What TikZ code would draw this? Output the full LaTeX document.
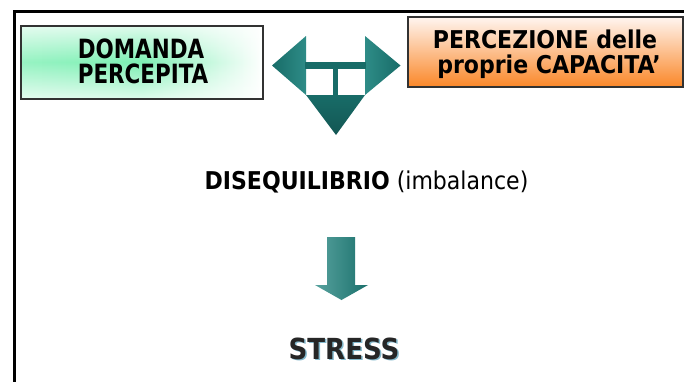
\documentclass[tikz,border=0pt]{standalone}
\usepackage{fontspec}
\setmainfont{DejaVu Sans Condensed}
\newfontfamily\narrowfont{DejaVu Sans Condensed}[FakeStretch=0.9]
\usetikzlibrary{shadings,fadings}
\definecolor{tealA}{RGB}{24,108,104}
\definecolor{tealB}{RGB}{46,140,135}
\definecolor{mint}{RGB}{125,240,180}
\definecolor{orng}{RGB}{250,135,40}
\definecolor{orngtop}{RGB}{255,245,240}
\definecolor{boxline}{RGB}{50,50,50}
\definecolor{shadowblue}{RGB}{130,185,205}
\tikzset{
  greentext/.style={font=\narrowfont\fontsize{26.5}{25}\selectfont\bfseries, text=black, inner sep=0pt, anchor=base},
  orangetext/.style={font=\fontsize{24.5}{25}\selectfont\bfseries, text=black, inner sep=0pt, anchor=base},
  boxframe/.style={draw=boxline, line width=1.3pt, inner sep=0pt},
}
\begin{document}
\begin{tikzpicture}[x=1pt,y=-1pt]
\useasboundingbox (0,0) rectangle (684,381);
\fill[white] (0,0) rectangle (684,381);
% frame
\draw[line width=3pt] (14.5,11.5) -- (700,11.5);
\draw[line width=3pt] (14.5,10) -- (14.5,400);
% green box
\shade[left color=mint!80!white, right color=white, middle color=mint] (21,26) rectangle (263,99);
\fill[white, opacity=0.75, path fading=south] (21,26) rectangle (263,62);
\fill[white, opacity=0.75, path fading=north] (21,62) rectangle (263,99);
\node[boxframe, minimum width=242pt, minimum height=73pt] (dom) at (142,62.5) {};
\node[greentext] (dom1) at (141,58) {DOMANDA};
\node[greentext] (dom2) at (143,83) {PERCEPITA};
% orange box
\shade[top color=orngtop, bottom color=orng] (408,17) rectangle (683,87);
\node[boxframe, minimum width=275pt, minimum height=70pt] (perc) at (545.5,52) {};
\node[orangetext] (perc1) at (545,48) {PERCEZIONE delle};
\node[orangetext] (perc2) at (549,73) {proprie CAPACITA’};
% teal shape
\shade[left color=tealA, right color=tealB] (306,36) -- (272,65.5) -- (306,95) -- cycle;
\shade[left color=tealB, right color=tealA] (365,36) -- (400.5,65.5) -- (365,95) -- cycle;
\fill[tealA] (305,62) rectangle (366,69);
\fill[tealA] (333,68) rectangle (338,96);
\shade[top color=tealA, bottom color=tealA!80!black] (306,95) -- (365,95) -- (336,135) -- cycle;
% middle text
\node[anchor=base, inner sep=0pt, font=\fontsize{24.5}{26}\selectfont] (dis) at (366.5,189) {\textbf{DISEQUILIBRIO} (imbalance)};
% down arrow
\shade[left color=tealB!80!white, right color=tealA!90!tealB] (327,237) -- (355,237) -- (355,285) -- (368,285) -- (341.5,300) -- (315,285) -- (327,285) -- cycle;
% STRESS
\node[anchor=base, inner sep=0pt, font=\fontsize{29}{31}\selectfont\bfseries, text=shadowblue] (strshadow) at (345.5,360.5) {STRESS};
\node[anchor=base, inner sep=0pt, font=\fontsize{29}{31}\selectfont\bfseries, text=black!85] (str) at (344,359) {STRESS};
\end{tikzpicture}
\end{document}
